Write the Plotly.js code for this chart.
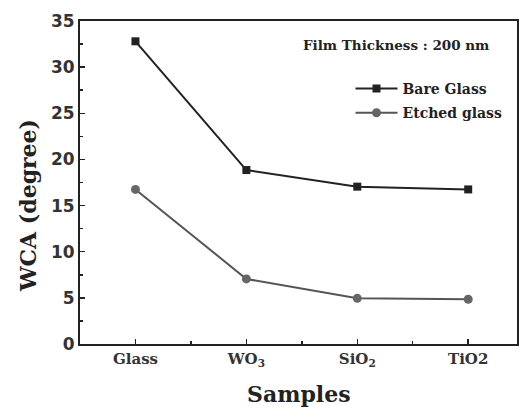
<!DOCTYPE html>
<html><head><meta charset="utf-8">
<script src="https://cdn.plot.ly/plotly-3.0.1.min.js"></script>
<style>body{margin:0;background:#fff}#c{width:521px;height:411px}</style>
</head><body><div id="c"></div>
<script>
const categories = ["Glass", "WO<sub>3</sub>", "SiO<sub>2</sub>", "TiO2"];
const bareGlass = [32.8, 18.85, 17.05, 16.75];
const etchedGlass = [16.75, 7.05, 4.95, 4.85];
const yTicks = [0, 5, 10, 15, 20, 25, 30, 35];
const idx = categories.map((_, i) => i);
const serif = "DejaVu Serif, serif";
const sans = "DejaVu Sans, sans-serif";
const traces = [
  {x: idx, y: bareGlass, name: "Bare Glass", mode: "lines+markers", legendgroup: "a",
   line: {color: "#222", width: 2}, marker: {symbol: "square", size: 8, color: "#222"}},
  {x: idx, y: etchedGlass, name: "Etched glass", mode: "lines+markers", legendgroup: "b",
   line: {color: "#555", width: 2}, marker: {symbol: "circle", size: 9, color: "#666"}}
];
const layout = {
  width: 521, height: 411,
  margin: {l: 80, r: 4, t: 21, b: 67},
  paper_bgcolor: "#fff", plot_bgcolor: "#fff",
  showlegend: true,
  legend: {x: 0.619, y: 0.839, xanchor: "left", yanchor: "top", bgcolor: "rgba(0,0,0,0)",
    traceorder: "grouped", tracegroupgap: 3, itemwidth: 42,
    font: {family: serif, size: 14, color: "#222", weight: "bold"}},
  xaxis: {range: [-0.5, 3.44], tickvals: idx, ticktext: categories,
    showgrid: false, zeroline: false, showline: true, linecolor: "#222", linewidth: 2, mirror: true,
    ticks: "inside", ticklen: 5, tickwidth: 1.5, tickcolor: "#222",
    minor: {ticks: "inside", dtick: 0.5, tick0: 0, ticklen: 3, tickcolor: "#222"},
    tickfont: {family: serif, size: 15, color: "#333", weight: "bold"}},
  yaxis: {range: [0, 35], tickvals: yTicks,
    showgrid: false, zeroline: false, showline: true, linecolor: "#222", linewidth: 2, mirror: true,
    ticks: "inside", ticklen: 5, tickwidth: 1.5, tickcolor: "#222",
    minor: {ticks: "inside", dtick: 2.5, ticklen: 3, tickcolor: "#222"},
    tickfont: {family: sans, size: 17, color: "#333", weight: "bold"}},
  annotations: [
    {xref: "paper", yref: "paper", x: 0.722, y: 0.926, xanchor: "center", yanchor: "middle",
     text: "Film Thickness : 200 nm", showarrow: false,
     font: {family: serif, size: 13.5, color: "#222", weight: "bold"}},
    {xref: "paper", yref: "paper", x: -0.119, y: 0.43, xanchor: "center", yanchor: "middle",
     text: "WCA (degree)", textangle: -90, showarrow: false,
     font: {family: serif, size: 22, color: "#222", weight: "bold"}},
    {xref: "paper", yref: "paper", x: 0.5, y: -0.155, xanchor: "center", yanchor: "middle",
     text: "Samples", showarrow: false,
     font: {family: serif, size: 22, color: "#222", weight: "bold"}}
  ]
};
Plotly.newPlot("c", traces, layout, {displayModeBar: false, staticPlot: true});
</script></body></html>
